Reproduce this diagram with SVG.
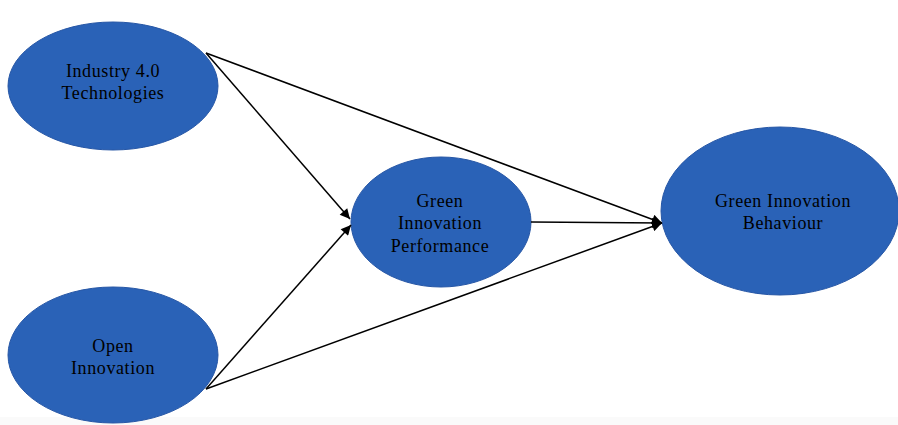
<svg xmlns="http://www.w3.org/2000/svg" width="898" height="425" viewBox="0 0 898 425">
<style>
.node{fill:#2a62b7;stroke:#2757a6;stroke-width:1}
.lbl{font-family:"Liberation Serif","Times New Roman",serif;font-size:18px;letter-spacing:0.6px;fill:#000;text-anchor:middle}
.edge{stroke:#000;stroke-width:1.5;fill:none;marker-end:url(#ah)}
</style>
<defs>
<marker id="ah" viewBox="0 0 10 10" refX="10" refY="5" markerWidth="11" markerHeight="10" orient="auto" markerUnits="userSpaceOnUse">
<path d="M0,0 L10,5 L0,10 z" fill="#000"/>
</marker>
</defs>
<rect x="0" y="0" width="898" height="425" fill="#fff"/>
<rect x="0" y="417" width="898" height="8" fill="#fafafa"/>
<g id="n1"><ellipse class="node" cx="113" cy="86" rx="105" ry="64"/>
<text class="lbl" x="113" y="77">Industry 4.0</text><text class="lbl" x="113" y="99">Technologies</text></g>
<g id="n2"><ellipse class="node" cx="113" cy="355" rx="105" ry="68"/>
<text class="lbl" x="113" y="352">Open</text><text class="lbl" x="113" y="374">Innovation</text></g>
<g id="n3"><ellipse class="node" cx="441" cy="222" rx="90" ry="65"/>
<text class="lbl" x="440" y="207">Green</text><text class="lbl" x="440" y="229">Innovation</text><text class="lbl" x="440" y="252">Performance</text></g>
<g id="n4"><ellipse class="node" cx="780" cy="211" rx="119" ry="84"/>
<text class="lbl" x="783" y="207">Green Innovation</text><text class="lbl" x="783" y="229">Behaviour</text></g>
<g id="edges">
<path class="edge" d="M206,53 L350,219"/>
<path class="edge" d="M206,53 L662,223"/>
<path class="edge" d="M206,389 L351,225"/>
<path class="edge" d="M206,389 L662,223"/>
<path class="edge" d="M531,222 L662,223"/>
</g>
</svg>
